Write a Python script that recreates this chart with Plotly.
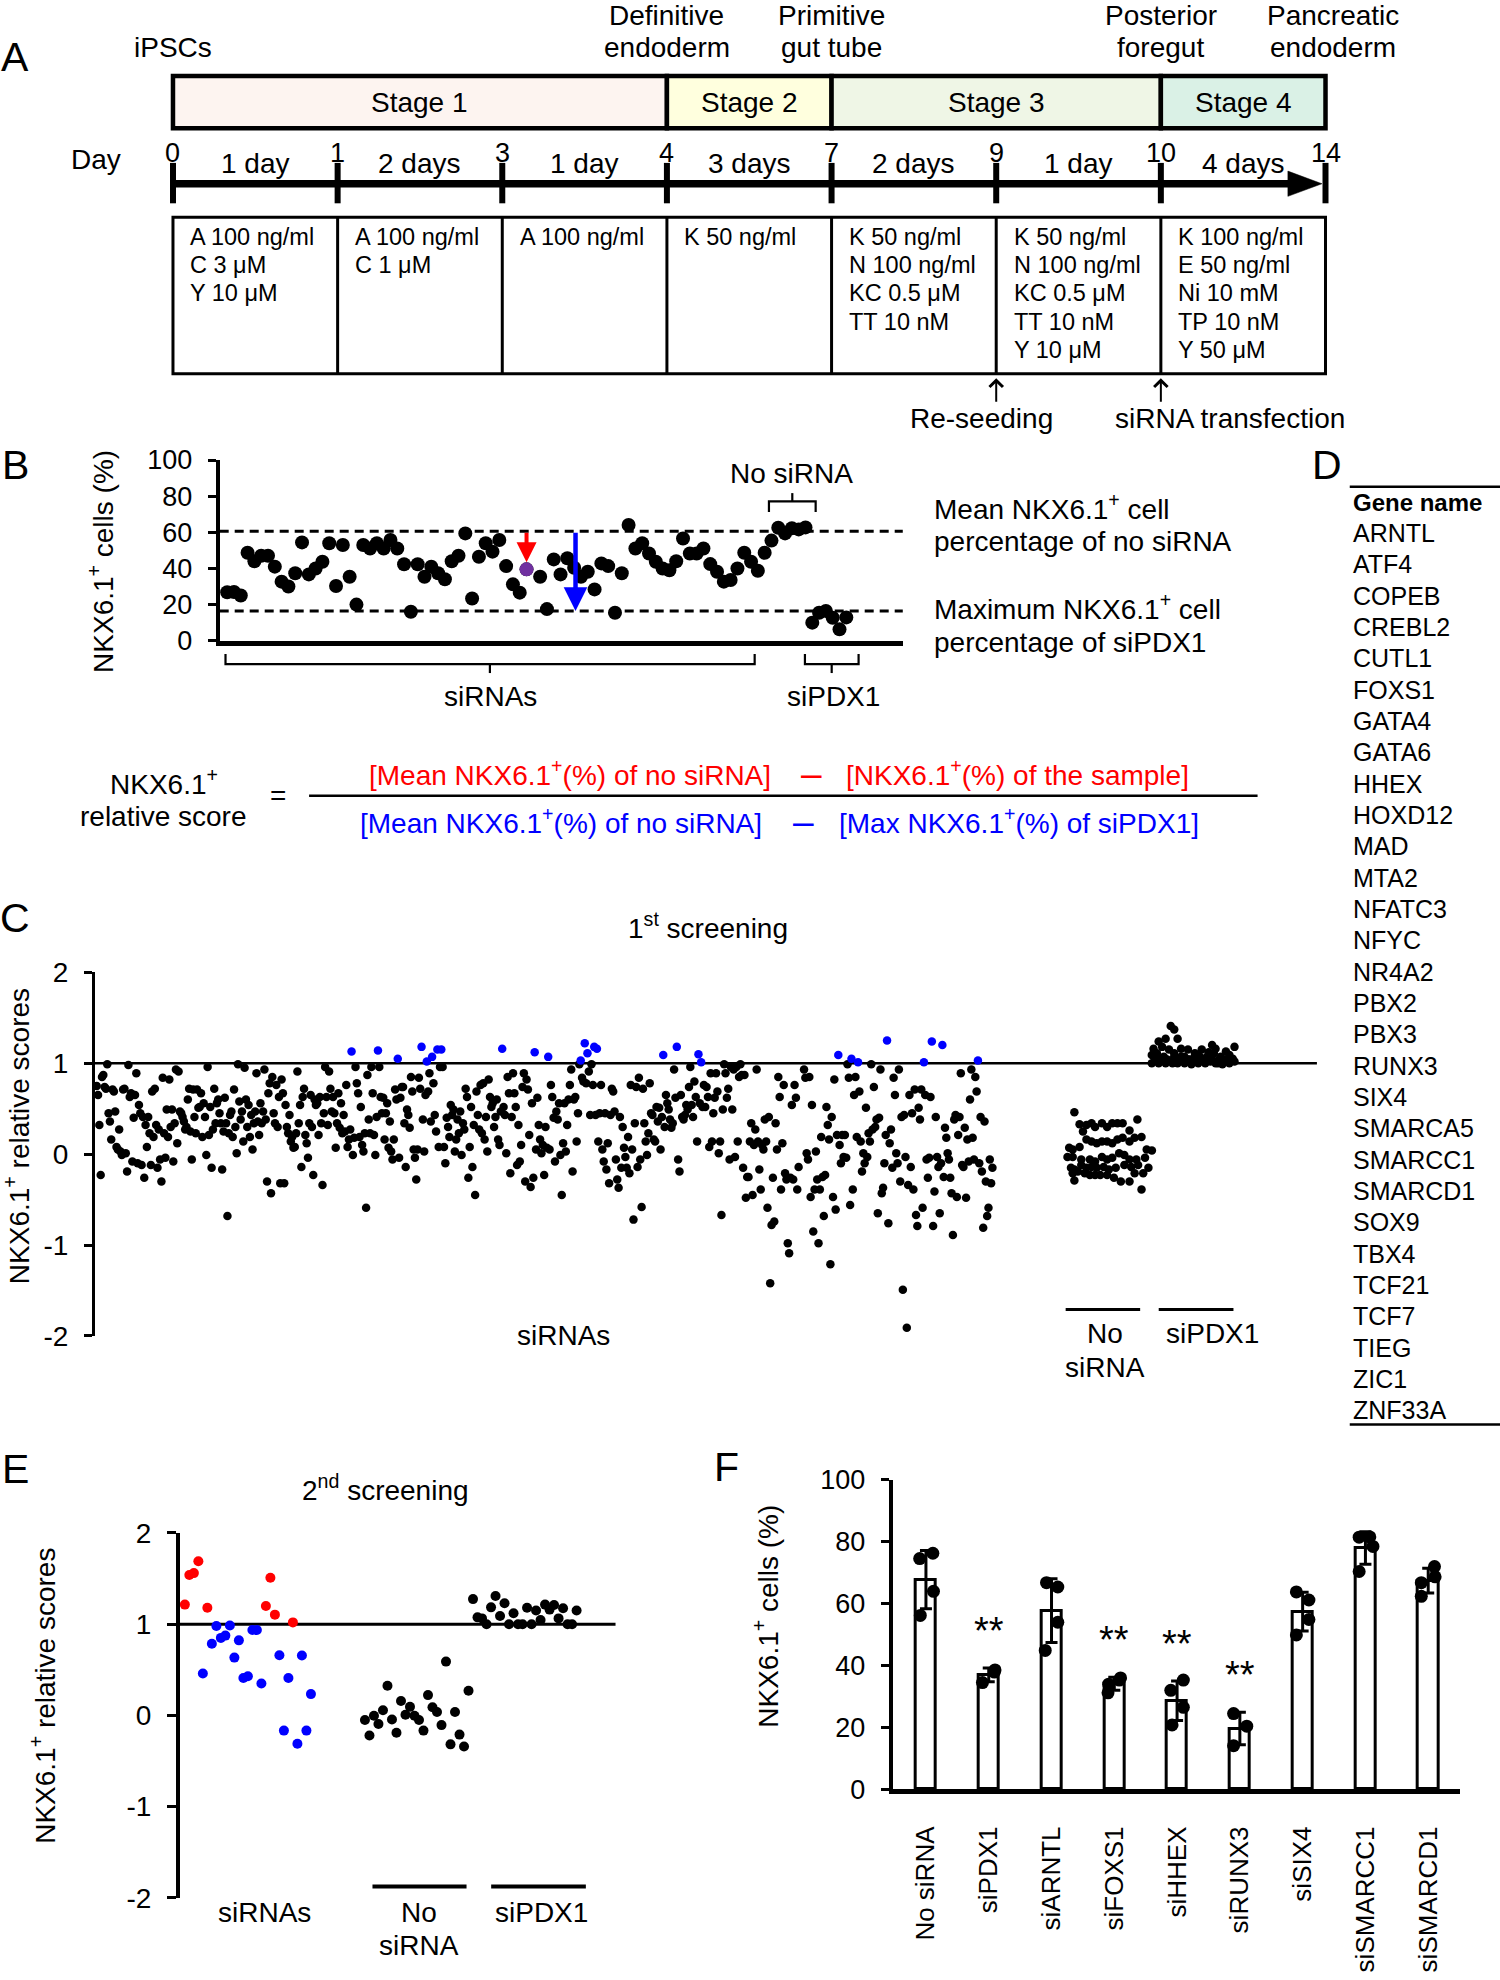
import statistics as st
import plotly.graph_objects as go

# ============================ DATA ============================
# ---- Panel A: differentiation protocol ----
day_marks = ["0", "1", "3", "4", "7", "9", "10", "14"]
durations = ["1 day", "2 days", "1 day", "3 days", "2 days", "1 day", "4 days"]
stage_names = ["Stage 1", "Stage 2", "Stage 3", "Stage 4"]
stage_bounds = [(0, 3), (3, 4), (4, 6), (6, 7)]          # indices into day_marks
cell_types = [["iPSCs"], ["Definitive", "endoderm"], ["Primitive", "gut tube"],
              ["Posterior", "foregut"], ["Pancreatic", "endoderm"]]
cell_type_mark = [0, 3, 4, 6, 7]
conditions = [
    ["A 100 ng/ml", "C 3 μM", "Y 10 μM"],
    ["A 100 ng/ml", "C 1 μM"],
    ["A 100 ng/ml"],
    ["K 50 ng/ml"],
    ["K 50 ng/ml", "N 100 ng/ml", "KC 0.5 μM", "TT 10 nM"],
    ["K 50 ng/ml", "N 100 ng/ml", "KC 0.5 μM", "TT 10 nM", "Y 10 μM"],
    ["K 100 ng/ml", "E 50 ng/ml", "Ni 10 mM", "TP 10 nM", "Y 50 μM"],
]
events = ["Re-seeding", "siRNA transfection"]
event_mark = [5, 6]

# ---- Panel B: NKX6.1+ cells (%) per well ----
b_sirna = [26.8, 27.0, 25.0, 48.7, 44.0, 47.0, 47.0, 41.0, 32.7, 30.0,
           37.3, 54.4, 36.7, 40.0, 43.7, 53.9, 30.3, 53.0, 35.4, 20.0,
           53.0, 51.0, 53.9, 51.0, 55.7, 51.0, 42.3, 16.0, 42.3, 35.4,
           41.0, 37.3, 34.0, 44.0, 47.0, 59.4, 23.4, 46.5, 53.9, 49.3,
           55.7, 41.3, 31.2, 26.6, 39.5, None, 35.4, 17.5, 45.0, 36.7,
           45.6, 40.4, 35.4, 38.2, 28.4, 42.8, 41.3, 15.5, 37.3, 64.0,
           51.0, 53.9, 48.3, 43.7, 40.0, 39.0, 44.0, 56.6, 48.3, 48.3,
           51.0, 42.4, 38.2, 32.7, 33.6, 40.0, 48.7, 43.7, 38.7, 48.7]
b_nosirna = [55.4, 62.5, 59.4, 62.2, 61.6, 62.7]
b_sipdx1 = [10.0, 15.5, 16.5, 12.7, 6.3, 12.9]
b_sample = 44        # highlighted example well

# ---- Panel C: 1st screening relative scores ----
c_sirna_left = [0.75,0.65,0.32,-0.23,0.85,0.87,0.74,0.72,0.99,0.45,0.36,0.16,0.71,0.69,0.47,0.08,0.05,0.27,0.03,-0.01,
    0.71,0.72,0.01,-0.19,0.98,0.63,0.67,-0.08,0.40,0.65,0.89,-0.10,0.54,0.45,-0.12,0.41,-0.26,0.32,0.08,0.41,
    0.23,-0.12,0.69,0.19,0.72,0.32,-0.15,0.27,-0.06,-0.30,0.84,0.23,-0.04,0.49,0.19,0.82,0.30,0.49,-0.08,0.34,
    0.93,0.12,0.91,0.47,0.45,0.41,0.36,0.27,0.30,0.60,0.72,0.25,-0.06,0.71,0.41,0.23,0.71,0.51,0.52,0.67,
    0.19,0.56,0.41,-0.01,0.96,0.21,0.52,-0.15,0.27,0.72,0.34,0.56,0.60,0.45,0.34,-0.17,0.25,0.62,0.34,-0.68,
    0.23,0.43,0.47,0.19,0.71,0.30,0.01,0.99,0.58,0.38,0.47,0.14,0.95,0.60,0.30,0.54,0.19,0.43,0.05,0.34,
    0.47,0.89,0.36,0.21,0.56,0.34,0.47,0.93,0.38,-0.30,0.67,0.78,-0.43,0.85,0.45,0.34,0.76,0.30,0.63,-0.32,
    0.82,0.67,-0.32,0.54,0.30,0.23,0.43,0.14,0.19,0.07,0.08,0.23,0.91,0.34,0.54,-0.14,0.63,0.72,0.21,0.12,
    -0.04,0.34,0.65,0.30,-0.23,0.60,0.54,0.56,0.21,0.63,0.34,-0.34,0.45,0.96,0.63,0.32,0.91,0.72,0.47,0.63,
    0.45,0.07,0.34,0.67,0.29,0.56,0.23,0.43,0.25,0.76,0.08,0.16,0.27,1.13,-0.01,0.18,0.96,0.78,0.67,0.19,
    0.52,0.10,0.03,0.23,-0.59,0.87,0.38,0.23,0.96,0.67,0.21,-0.01,0.41,1.14,0.96,0.63,0.45,0.62,0.16,0.45,
    0.56,0.07,0.36,0.03,-0.06,0.16,0.71,0.60,1.05,-0.04,0.62,0.74,0.74,0.34,-0.14,0.49,0.43,0.29,0.85,0.69,
    0.05,-0.04,-0.28,0.05,0.84,0.72,1.18,0.38,0.03,0.65,1.02,0.69,0.89,0.36,1.07,0.78,0.43,0.25,1.15,0.08,0.96]
c_sirna_mid = [1.15,0.96,0.08,-0.10,0.40,0.30,0.19,0.54,0.43,0.49,0.03,0.16,0.38,0.23,0.47,-0.01,0.34,0.27,0.72,0.63,
    -0.26,0.08,0.52,-0.14,0.32,-0.45,0.69,0.43,0.27,0.76,0.23,0.78,0.16,0.41,0.03,0.82,0.63,0.52,0.56,0.30,
    0.41,0.60,0.16,0.10,0.47,1.16,0.52,0.43,0.01,0.85,0.67,-0.21,0.41,0.89,0.67,0.52,-0.12,0.32,-0.08,0.10,
    0.74,0.89,-0.30,0.82,0.71,0.21,-0.36,0.56,-0.26,1.12,0.05,0.62,0.32,0.16,0.01,0.10,-0.23,0.30,0.07,1.07,
    0.05,0.76,0.63,0.40,-0.08,0.47,0.38,0.56,-0.01,-0.45,0.12,0.56,0.03,0.32,0.60,0.76,0.93,-0.19,0.60,0.63,
    0.14,0.45,0.99,1.03,0.84,0.80,1.22,0.78,1.11,0.91,0.43,0.99,0.76,1.18,0.43,1.16,0.14,0.45,0.76,0.05,
    -0.08,0.45,-0.17,0.12,-0.32,0.43,0.72,0.69,0.47,-0.06,-0.28,-0.37,0.41,-0.15,0.30,0.07,-0.03,-0.15,0.19,-0.21,
    0.76,0.05,-0.72,0.34,0.74,-0.14,0.84,-0.06,-0.58,0.72,0.34,0.14,-0.01,0.23,0.78,0.45,0.43,0.16,0.14,0.52,
    0.36,0.51,0.05,0.41,1.09,0.30,0.65,0.56,0.49,0.38,0.29,0.34,0.93,0.62,1.18,-0.06,-0.19,0.65,0.41,0.38,
    0.43,0.54,0.49,0.74,0.96,0.54,0.41,0.80,0.63,0.14,1.10,0.56,1.01,0.52,0.76,0.52,0.74,0.63,0.08,0.89,
    0.14,0.45,0.62,0.89,0.69,0.01,0.14,-0.67,0.49,0.99,0.89,0.62,0.72,-0.06,0.96,0.49,0.93,-0.03,0.96,0.14,
    0.85,0.99,0.87,-0.15,0.87,-0.48,-0.25,-0.25,0.14,0.34,-0.45,0.10,0.27,0.93,0.14,-0.17,-0.39,0.10,0.05,0.38,
    0.14,-0.59,0.41,-1.42,-0.78,-0.26,-0.74,0.34,0.05,0.85,0.63,-0.39,0.12,0.76,-0.21,-0.28,-0.98,-1.09,-0.26,0.54,
    -0.28,0.76,0.62,-0.39,-0.14]
c_sirna_right = [0.93,0.84,0.01,-0.06,0.85,-0.47,0.54,-0.85,-0.39,0.03,-0.28,-0.98,-0.39,0.19,-0.25,-0.68,-0.23,0.52,0.32,0.16,
    -1.21,0.41,-0.47,0.82,-0.61,0.21,1.09,0.10,-0.10,0.21,-0.03,0.21,-0.04,0.99,0.84,-0.56,1.05,-0.39,0.65,0.85,
    0.19,1.01,0.69,0.14,-0.19,0.01,-0.10,0.51,-0.03,0.23,0.14,0.99,0.27,0.74,0.30,0.38,-0.65,0.40,0.93,-0.43,
    -0.37,-0.10,0.21,1.25,-0.76,0.12,0.27,-0.15,0.84,0.65,0.01,-0.10,0.93,-0.30,0.41,-1.49,0.43,-0.03,-1.91,-0.34,
    0.65,-0.14,0.45,-0.39,0.71,-0.67,-0.79,0.51,0.38,0.71,-0.59,1.01,0.65,-0.06,-0.26,-0.04,0.63,1.24,-0.79,-0.41,
    0.41,-0.03,-0.14,-0.65,-0.10,1.20,-0.25,0.29,0.18,0.01,-0.06,-0.26,-0.43,-0.89,0.38,0.43,-0.47,0.21,0.41,0.89,
    -0.12,-0.14,0.29,-0.48,0.16,-0.08,0.60,0.93,0.18,-0.06,0.85,0.69,1.03,-0.10,0.41,-0.19,-0.81,0.36,-0.30,-0.68,
    -0.59,-0.06,-0.32,-0.15]
c_nosirna = [0.46,0.33,0.25,0.32,0.34,0.30,0.34,0.30,0.34,0.34,0.34,0.26,0.38,
    0.07,0.05,0.08,0.16,0.14,0.12,0.14,0.14,0.12,0.16,0.18,0.14,0.18,0.19,0.05,0.04,
    -0.03,-0.03,-0.06,-0.06,-0.08,-0.03,-0.06,-0.04,0.01,-0.01,-0.06,-0.06,-0.04,
    -0.15,-0.17,-0.12,-0.15,-0.14,-0.15,-0.14,-0.17,-0.15,-0.12,-0.14,-0.12,-0.15,
    -0.21,-0.19,-0.21,-0.23,-0.23,-0.23,-0.23,-0.26,-0.30,-0.30,-0.21,-0.21,-0.29,-0.39]
c_nosirna_jitter = [9.6,15.4,19.2,23.1,28.8,32.7,40.4,46.2,51.9,57.7,63.5,71.2,80.0,
    3.8,7.7,15.4,23.1,28.8,34.6,40.4,46.2,51.9,57.7,63.5,71.2,76.9,84.6,90.4,96.2,
    1.9,7.7,17.3,26.9,32.7,40.4,46.2,51.9,59.6,65.4,71.2,78.8,88.5,
    5.8,9.6,17.3,23.1,28.8,34.6,42.3,48.1,55.8,65.4,73.1,80.8,92.3,
    7.7,13.5,21.2,26.9,32.7,38.5,46.2,53.8,61.5,71.2,76.9,86.5,9.6,84.6]
c_sipdx1 = [1.41,1.37,1.27,1.27,1.24,1.16,1.18,1.15,1.16,1.15,1.11,1.15,1.20,1.16,1.13,1.18,
    1.09,1.05,1.07,1.07,1.07,1.05,1.07,1.07,1.11,1.07,1.09,1.05,
    1.00,1.00,1.00,1.00,1.00,1.00,0.99,1.00,1.00,1.02,1.00,0.99,1.00,1.02,
    1.04,1.04,1.04,1.04,1.04,1.04,1.11,1.04,1.07,1.09,1.12,1.04,1.04,1.04,1.11,1.04,1.04,1.00]
c_sipdx1_jitter = [24.6,28.6,18.7,32.5,10.7,4.8,14.7,22.6,36.5,44.4,52.4,60.3,72.2,76.2,88.1,98.0,
    2.8,8.7,16.7,28.6,40.5,50.4,58.3,66.3,74.2,82.1,92.1,96.0,
    2.8,10.7,18.7,26.6,32.5,40.5,48.4,56.3,64.3,70.2,76.2,84.1,92.1,98.0,
    6.7,32.5,46.4,62.3,80.2,90.1,8.7,14.7,36.5,54.4,68.3,86.1,94.0,20.6,28.6,44.4,72.2,79.0]

# ---- Panel D: genes kept for the 2nd screening ----
d_genes = ["ARNTL", "ATF4", "COPEB", "CREBL2", "CUTL1", "FOXS1", "GATA4", "GATA6", "HHEX", "HOXD12",
           "MAD", "MTA2", "NFATC3", "NFYC", "NR4A2", "PBX2", "PBX3", "RUNX3", "SIX4", "SMARCA5",
           "SMARCC1", "SMARCD1", "SOX9", "TBX4", "TCF21", "TCF7", "TIEG", "ZIC1", "ZNF33A"]

# ---- Panel E: 2nd screening relative scores ----
e_sirna = [1.215, 1.54, 1.56, 1.69, 0.46, 1.18, 0.785, 0.98, 0.85, 0.875, 0.985, 0.634, 0.823, 0.41, 0.43,
           0.936, 0.936, 0.35, 1.20, 1.51, 1.105, 0.66, -0.166, 0.41, 1.02, -0.31, 0.657, -0.166, 0.234]
e_nosirna = [-0.05, -0.22, -0.004, -0.094, 0.057, 0.325, -0.045, -0.19, 0.158, 0.008, 0.094, -0.004,
             -0.05, -0.166, 0.223, 0.09, 0.038, -0.106, 0.59, -0.317, 0.038, -0.21, -0.34, 0.27]
e_sipdx1 = [1.275, 1.075, 1.064, 1.0, 1.185, 1.31, 1.09, 1.23, 1.0, 1.12, 1.0, 1.0, 1.18, 1.0, 1.15,
            1.045, 1.215, 1.16, 1.21, 1.064, 1.175, 1.0, 1.0, 1.15]

# ---- Panel F: validation, NKX6.1+ cells (%) replicates ----
f_groups = ["No siRNA", "siPDX1", "siARNTL", "siFOXS1", "siHHEX", "siRUNX3", "siSIX4", "siSMARCC1", "siSMARCD1"]
f_reps = [[56.2, 74.6, 76.3, 64.0], [34.5, 37.9, 38.6], [66.8, 65.4, 54.0, 44.9], [31.2, 34.0, 36.0, 35.3],
          [35.3, 32.0, 26.5, 20.8], [24.5, 20.4, 14.1], [63.8, 61.2, 54.9, 49.9], [81.5, 81.6, 78.5, 70.4],
          [72.0, 68.7, 66.8, 62.4]]
f_jitter = [[-0.09, -0.10, 0.11, 0.12], [-0.10, 0.09, 0.10], [-0.08, 0.10, 0.10, -0.10], [-0.10, -0.09, 0.10, 0.08],
            [0.10, -0.10, 0.10, -0.08], [-0.10, 0.11, -0.10], [-0.10, 0.10, 0.10, -0.10], [-0.10, 0.07, 0.12, -0.10],
            [0.10, 0.11, -0.11, -0.11]]
f_signif = ["", "**", "", "**", "**", "**", "", "", ""]

# ============================ STYLE / LAYOUT HELPERS ============================
W, H = 1500, 1980
GW, GH = 1188.0, 1568.0          # layout grid used for placement
FONT = "Liberation Sans, Arial, Helvetica, sans-serif"
BLACK, RED, BLUE, PURPLE = "#000000", "#FF0000", "#0000FF", "#7030A0"
stage_colors = ["#FDF4F0", "#FFFFDE", "#EFF6E6", "#DAF1E6"]


def X(d):
    return d / GW


def Y(d):
    return 1.0 - d / GH


shapes, annos = [], []


def txt(x, y, s, size=28, color=BLACK, xa="center", ya="middle", angle=0):
    annos.append(dict(xref="paper", yref="paper", x=X(x), y=Y(y), text=s, showarrow=False,
                      xanchor=xa, yanchor=ya, textangle=angle, borderpad=0,
                      font=dict(family=FONT, size=size, color=color)))


def seg(x0, y0, x1, y1, w=2.5, color=BLACK):
    shapes.append(dict(type="line", xref="paper", yref="paper", x0=X(x0), y0=Y(y0), x1=X(x1), y1=Y(y1),
                       line=dict(color=color, width=w)))


def poly(pts, w=2.5, fill=None, close=False):
    p = "M " + " L ".join(f"{X(a):.5f},{Y(b):.5f}" for a, b in pts) + (" Z" if close else "")
    shapes.append(dict(type="path", xref="paper", yref="paper", path=p,
                       fillcolor=fill if fill else "rgba(0,0,0,0)", line=dict(color=BLACK, width=w)))


def box(x0, y0, x1, y1, fill, w):
    shapes.append(dict(type="rect", xref="paper", yref="paper", x0=X(x0), y0=Y(y0), x1=X(x1), y1=Y(y1),
                       fillcolor=fill, line=dict(color=BLACK, width=w)))


SUP = "NKX6.1<sup>+</sup>"
fig = go.Figure()

# ============================ PANEL A ============================
txt(12, 45, "A", 41)
tick_x = [137 + k * (1049.8 - 137) / (len(day_marks) - 1) for k in range(len(day_marks))]
for name, col, (a, b) in zip(stage_names, stage_colors, stage_bounds):
    box(tick_x[a], 60.2, tick_x[b], 101.6, col, 4.5)
    txt((tick_x[a] + tick_x[b]) / 2, 81, name)
for lines, m in zip(cell_types, cell_type_mark):
    for j, s in enumerate(reversed(lines)):
        txt(tick_x[m] + (6 if m == len(day_marks) - 1 else 0), 37.5 - 25 * j, s)
seg(tick_x[0], 145.5, 1024, 145.5, w=7.5)
poly([(1020, 135.5), (1047, 145.5), (1020, 155.5)], w=0.5, fill=BLACK, close=True)
for tx, d in zip(tick_x, day_marks):
    seg(tx, 129, tx, 161, w=6)
    txt(tx, 121, d, size=27)
for k, dur in enumerate(durations):
    txt((tick_x[k] + tick_x[k + 1]) / 2, 129.5, dur)
txt(76, 126, "Day")
box(tick_x[0], 172, tick_x[-1], 296, "rgba(0,0,0,0)", 3)
for tx in tick_x[1:-1]:
    seg(tx, 172, tx, 296, w=3)
for k, lines in enumerate(conditions):
    for j, s in enumerate(lines):
        txt(tick_x[k] + 13, 187.5 + 22.45 * j, s, size=23.5, xa="left")
for name, m, lx in zip(events, event_mark, [777, 974]):
    annos.append(dict(xref="paper", yref="paper", x=X(tick_x[m]), y=Y(299.5), ax=0, ay=25, text="",
                      showarrow=True, arrowhead=4, arrowsize=1.3, arrowwidth=2, arrowcolor=BLACK))
    txt(lx, 331.5, name)

# ============================ PANEL B ============================
txt(12, 368, "B", 41)
n1, n2, n3 = len(b_sirna), len(b_nosirna), len(b_sipdx1)
fig.add_trace(go.Scatter(x=list(range(n1)), y=b_sirna, mode="markers", xaxis="x2", yaxis="y2",
                         marker=dict(size=14, color=BLACK), cliponaxis=False))
fig.add_trace(go.Scatter(x=list(range(n1, n1 + n2)), y=b_nosirna, mode="markers", xaxis="x2", yaxis="y2",
                         marker=dict(size=14, color=BLACK), cliponaxis=False))
fig.add_trace(go.Scatter(x=list(range(n1 + n2, n1 + n2 + n3)), y=b_sipdx1, mode="markers", xaxis="x2", yaxis="y2",
                         marker=dict(size=14, color=BLACK), cliponaxis=False))
fig.add_trace(go.Scatter(x=[b_sample], y=[b_sirna[b_sample]], mode="markers", xaxis="x2", yaxis="y2",
                         marker=dict(size=14, color=PURPLE), cliponaxis=False))
mean_nos = st.mean(b_nosirna)
max_pdx = max(b_sipdx1)
for v in (mean_nos, max_pdx):
    shapes.append(dict(type="line", xref="x2 domain", yref="y2", x0=0, x1=1, y0=v, y1=v, layer="below",
                       line=dict(color=BLACK, width=3, dash="9px,6px")))
annos.append(dict(xref="x2", yref="y2", axref="x2", ayref="y2", x=b_sample, y=b_sirna[b_sample],
                  ax=b_sample, ay=mean_nos, text="", showarrow=True, arrowhead=2, arrowsize=1,
                  arrowwidth=4, arrowcolor=RED, standoff=7))
annos.append(dict(xref="x2", yref="y2", axref="x2", ayref="y2", x=51.2, y=max_pdx,
                  ax=51.2, ay=mean_nos, text="", showarrow=True, arrowhead=2, arrowsize=1.05,
                  arrowwidth=4.5, arrowcolor=BLUE, standoff=0))
txt(80, 445, SUP + " cells (%)", 28, angle=-90)
# group brackets
poly([(609, 405.5), (609, 397), (646, 397), (646, 405.5)], w=2.2)
seg(627.5, 397, 627.5, 390.5, w=2.2)
txt(627, 374.9, "No siRNA")
poly([(178.6, 518), (178.6, 526), (597.7, 526), (597.7, 518)], w=2.2)
seg(388, 526, 388, 533, w=2.2)
poly([(637.5, 518), (637.5, 526), (680, 526), (680, 518)], w=2.2)
seg(658.7, 526, 658.7, 533, w=2.2)
txt(388.8, 551.8, "siRNAs")
txt(660, 551.8, "siPDX1")
txt(739, 401.4, "Mean " + SUP + " cell", xa="left")
txt(739, 429.2, "percentage of no siRNA", xa="left")
txt(739, 480.8, "Maximum " + SUP + " cell", xa="left")
txt(739, 508.5, "percentage of siPDX1", xa="left")

# formula
txt(129.6, 619.2, SUP)
txt(129.6, 646.8, "relative score")
txt(219.9, 630, "=")
seg(244.8, 630.1, 996, 630.1, w=2.5)
txt(291.4, 612.2, "[Mean " + SUP + "(%) of no siRNA]", color=RED, xa="left")
txt(643, 612.2, "–", size=37, color=RED)
txt(669.6, 612.2, "[" + SUP + "(%) of the sample]", color=RED, xa="left")
txt(284.6, 650.2, "[Mean " + SUP + "(%) of no siRNA]", color=BLUE, xa="left")
txt(636, 650.2, "–", size=37, color=BLUE)
txt(664, 650.2, "[Max " + SUP + "(%) of siPDX1]", color=BLUE, xa="left")

# ============================ PANEL C ============================
txt(12, 727, "C", 41)
txt(561, 733, "1<sup>st</sup> screening")
c_parts = [c_sirna_left, c_sirna_mid, c_sirna_right]
c_part_span = [(76.6, 348.5), (349.5, 632.5), (636.8, 786.0)]   # horizontal placement of plate blocks
cx, cy = [], []
for vals, (lo, hi) in zip(c_parts, c_part_span):
    n = len(vals)
    cx += [lo + (hi - lo) * i / (n - 1) for i in range(n)]
    cy += vals
fig.add_trace(go.Scatter(x=cx, y=cy, mode="markers", xaxis="x3", yaxis="y3", cliponaxis=False,
                         marker=dict(size=8.5, color=[BLUE if v > 1 else BLACK for v in cy])))
nos_left, nos_w = 844.1, 70.9
pdx_left, pdx_w = 910.3, 68.8
fig.add_trace(go.Scatter(x=[nos_left + j / 100 * nos_w for j in c_nosirna_jitter], y=c_nosirna,
                         mode="markers", xaxis="x3", yaxis="y3", cliponaxis=False,
                         marker=dict(size=8.5, color=BLACK)))
fig.add_trace(go.Scatter(x=[pdx_left + j / 100 * pdx_w for j in c_sipdx1_jitter], y=c_sipdx1,
                         mode="markers", xaxis="x3", yaxis="y3", cliponaxis=False,
                         marker=dict(size=8.5, color=BLACK)))
shapes.append(dict(type="line", xref="x3 domain", yref="y3", x0=0, x1=1, y0=1, y1=1, layer="below",
                   line=dict(color=BLACK, width=2.6)))
txt(14, 900, SUP + " relative scores", angle=-90)
txt(446, 1057.3, "siRNAs")
seg(844, 1037, 903, 1037, w=3)
seg(917.7, 1037, 976.9, 1037, w=3)
txt(875.4, 1056, "No")
txt(875.4, 1083, "siRNA")
txt(960, 1056, "siPDX1")

# ============================ PANEL D ============================
txt(1051, 368, "D", 41)
seg(1069, 385.5, 1188, 385.5, w=2.5)
txt(1071, 398.3, "<b>Gene name</b>", 24, xa="left")
for k, g in enumerate(d_genes):
    txt(1071, 422 + k * 24.82, g, 25, xa="left")
seg(1069, 1128, 1188, 1128, w=2.5)

# ============================ PANEL E ============================
txt(12, 1163, "E", 41)
txt(305.5, 1178.5, "2<sup>nd</sup> screening")
e_offsets = [0, 40, 64]
fig.add_trace(go.Scatter(x=[e_offsets[0] + i for i in range(len(e_sirna))], y=e_sirna, mode="markers",
                         xaxis="x4", yaxis="y4", cliponaxis=False,
                         marker=dict(size=10, color=[RED if v > 1 else BLUE for v in e_sirna])))
fig.add_trace(go.Scatter(x=[e_offsets[1] + i for i in range(len(e_nosirna))], y=e_nosirna, mode="markers",
                         xaxis="x4", yaxis="y4", cliponaxis=False, marker=dict(size=10, color=BLACK)))
fig.add_trace(go.Scatter(x=[e_offsets[2] + i for i in range(len(e_sipdx1))], y=e_sipdx1, mode="markers",
                         xaxis="x4", yaxis="y4", cliponaxis=False, marker=dict(size=10, color=BLACK)))
shapes.append(dict(type="line", xref="x4 domain", yref="y4", x0=0, x1=1, y0=1, y1=1, layer="below",
                   line=dict(color=BLACK, width=3)))
txt(34, 1343, SUP + " relative scores", angle=-90)
seg(295, 1494, 369.5, 1494, w=4)
seg(389, 1494, 464, 1494, w=4)
txt(209.5, 1514.7, "siRNAs")
txt(331.7, 1514.7, "No")
txt(331.7, 1541, "siRNA")
txt(429, 1514.7, "siPDX1")

# ============================ PANEL F ============================
txt(575, 1162, "F", 41)
f_mean = [st.mean(r) for r in f_reps]
f_sd = [st.stdev(r) for r in f_reps]
fig.add_trace(go.Bar(x=list(range(len(f_groups))), y=f_mean, width=0.32, xaxis="x5", yaxis="y5",
                     marker=dict(color="white", line=dict(color=BLACK, width=3)),
                     error_y=dict(type="data", array=f_sd, visible=True, color=BLACK, thickness=3, width=6)))
fx, fy = [], []
for k, (reps, jit) in enumerate(zip(f_reps, f_jitter)):
    fx += [k + j for j in jit]
    fy += reps
fig.add_trace(go.Scatter(x=fx, y=fy, mode="markers", xaxis="x5", yaxis="y5", cliponaxis=False,
                         marker=dict(size=13, color=BLACK)))
for k, s in enumerate(f_signif):
    if s:
        annos.append(dict(xref="x5", yref="y5", x=k, y=f_mean[k] + f_sd[k] + 12, text=s, showarrow=False,
                          xanchor="center", yanchor="middle", font=dict(family=FONT, size=38, color=BLACK)))
txt(607, 1280, SUP + " cells (%)", angle=-90)

# ============================ AXES ============================
tickfont = dict(family=FONT, size=27, color=BLACK)
base = dict(showgrid=False, zeroline=False, linecolor=BLACK, tickcolor=BLACK, tickfont=tickfont,
            automargin=False)
c_ticks = dict(tickvals=[-2, -1, 0, 1, 2], ticktext=["-2", "-1", "0", "1", "2"])

fig.update_layout(
    width=W, height=H, autosize=False,
    margin=dict(l=0, r=0, t=0, b=0, pad=0, autoexpand=False),
    paper_bgcolor="white", plot_bgcolor="rgba(0,0,0,0)", showlegend=False, bargap=0,
    font=dict(family=FONT, color=BLACK),
    xaxis=dict(visible=False, automargin=False), yaxis=dict(visible=False, automargin=False),
    # B
    xaxis2=dict(domain=[X(174), X(715)], range=[-1.1, 99.3], anchor="y2", showline=True, linewidth=5,
                showticklabels=False, ticks="", **base),
    yaxis2=dict(domain=[Y(507.4), Y(364.3)], range=[0, 100], anchor="x2", showline=True, linewidth=4,
                ticks="outside", ticklen=8, tickwidth=3, tickvals=[0, 20, 40, 60, 80, 100],
                ticklabelstandoff=10, **base),
    # C
    xaxis3=dict(domain=[X(75), X(1043)], range=[75, 1043], anchor="y3", visible=False, automargin=False),
    yaxis3=dict(domain=[Y(1058), Y(770)], range=[-2, 2], anchor="x3", showline=True, linewidth=2.6,
                ticks="outside", ticklen=8, tickwidth=2.6, ticklabelstandoff=10, **c_ticks,
                **{**base, "tickfont": dict(family=FONT, size=28, color=BLACK)}),
    # E
    xaxis4=dict(domain=[X(142.3), X(487.5)], range=[-1.15, 95.65], anchor="y4", visible=False, automargin=False),
    yaxis4=dict(domain=[Y(1503), Y(1214)], range=[-2, 2], anchor="x4", showline=True, linewidth=3.5,
                ticks="outside", ticklen=9, tickwidth=3, ticklabelstandoff=10, **c_ticks,
                **{**base, "tickfont": dict(family=FONT, size=28, color=BLACK)}),
    # F
    xaxis5=dict(domain=[X(707), X(1156)], range=[-0.53, 8.5], anchor="y5", showline=True, linewidth=4.5,
                ticks="", tickvals=list(range(len(f_groups))), ticktext=f_groups, tickangle=-90,
                ticklabelstandoff=22, **{**base, "tickfont": dict(family=FONT, size=26, color=BLACK)}),
    yaxis5=dict(domain=[Y(1417), Y(1172)], range=[0, 100], anchor="x5", showline=True, linewidth=4,
                ticks="outside", ticklen=8, tickwidth=3, tickvals=[0, 20, 40, 60, 80, 100],
                ticklabelstandoff=10, **base),
    shapes=shapes, annotations=annos,
)

page_fix = ("document.documentElement.style.margin='0px';document.body.style.margin='0px';"
            "document.body.style.padding='0px';"
            "var g=document.getElementById('{plot_id}');g.style.position='absolute';"
            "g.style.left='0px';g.style.top='0px';"
            "document.body.style.height='1980px';document.body.style.overflow='hidden';"
            "document.documentElement.style.height='1980px';document.documentElement.style.overflow='hidden';")
fig.write_html("out.html", config={"displayModeBar": False}, post_script=page_fix)
